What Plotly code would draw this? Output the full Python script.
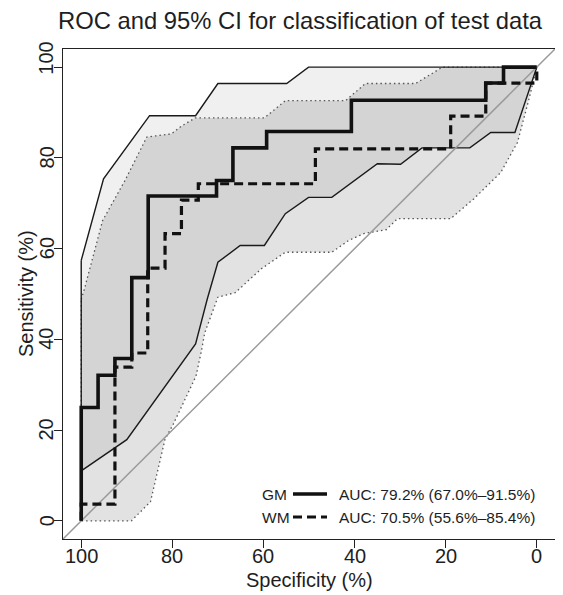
import plotly.graph_objects as go

# ---- data (specificity %, sensitivity %) ----
gm_spec = [100, 96.3, 92.6, 88.9, 85.3, 70.3, 66.7, 59.3, 40.7, 11.2, 7.3, 0]
gm_sens = [0, 25.0, 32.1, 35.8, 53.6, 71.6, 75.0, 82.2, 85.8, 92.7, 96.5, 100]

wm_spec = [100, 92.6, 88.9, 85.4, 81.6, 78.0, 74.3, 48.6, 18.9, 11.2, 0, 0]
wm_sens = [0, 3.7, 33.9, 37.0, 55.7, 63.3, 70.7, 74.3, 82.0, 89.2, 96.5, 100]

gm_ci_upper_spec = [100, 95.1, 85.0, 74.9, 70.0, 54.9, 50.1, 0]
gm_ci_upper_sens = [57.4, 75.4, 89.3, 89.3, 96.4, 96.4, 100, 100]
gm_ci_lower_spec = [100, 90.0, 74.9, 72.3, 70.0, 65.1, 59.8, 55.2, 50.1, 45.0, 35.0, 29.9, 25.2, 14.7, 10.1, 4.8, 0]
gm_ci_lower_sens = [11.0, 17.9, 39.0, 49.0, 57.0, 60.7, 60.7, 67.7, 71.3, 71.3, 78.7, 78.6, 82.2, 82.2, 85.6, 85.6, 100]

wm_ci_upper_spec = [100, 99.3, 95.3, 90.4, 85.6, 80.2, 78.0, 75.0, 59.8, 55.2, 42.0, 37.6, 26.6, 20.7, 0]
wm_ci_upper_sens = [48.8, 51.1, 66.2, 75.0, 84.6, 85.3, 87.0, 88.8, 88.8, 92.6, 92.6, 96.4, 96.4, 100, 100]
wm_ci_lower_spec = [100, 89.0, 84.8, 81.6, 79.8, 74.8, 73.6, 72.9, 70.0, 66.2, 60.4, 55.2, 45.0, 41.3, 38.0, 33.0, 30.6, 18.9, 13.8, 7.9, 4.25, 1.7, 0]
wm_ci_lower_sens = [0, 0, 4.2, 18.0, 21.3, 31.9, 37.5, 41.4, 49.3, 50.3, 55.6, 59.2, 59.2, 61.8, 63.3, 64.2, 66.6, 66.6, 71.0, 76.8, 83.4, 93.0, 100]

diag_spec = [104, -4]
diag_sens = [-4, 104]

tick_vals = [0, 20, 40, 60, 80, 100]
tick_labels = ["0", "20", "40", "60", "80", "100"]
legend_names = ["GM", "WM"]
legend_auc = ["AUC: 79.2% (67.0%–91.5%)", "AUC: 70.5% (55.6%–85.4%)"]
title_text = "ROC and 95% CI for classification of test data"
x_title = "Specificity (%)"
y_title = "Sensitivity (%)"

FONT = "Liberation Sans, Arial, sans-serif"
TXT = "#1e1e1e"

fig = go.Figure()

def band(us, uy, ls, ly):
    xs = us + ls[::-1] + [us[0]]
    ys = uy + ly[::-1] + [uy[0]]
    return xs, ys

gx, gy = band(gm_ci_upper_spec, gm_ci_upper_sens, gm_ci_lower_spec, gm_ci_lower_sens)
wx, wy = band(wm_ci_upper_spec, wm_ci_upper_sens, wm_ci_lower_spec, wm_ci_lower_sens)

fig.add_trace(go.Scatter(x=gx, y=gy, mode="lines", fill="toself",
                         fillcolor="rgba(0,0,0,0.06)", line=dict(width=0),
                         hoverinfo="skip", showlegend=False))
fig.add_trace(go.Scatter(x=wx, y=wy, mode="lines", fill="toself",
                         fillcolor="rgba(0,0,0,0.115)", line=dict(width=0),
                         hoverinfo="skip", showlegend=False))
# band borders
fig.add_trace(go.Scatter(x=wx, y=wy, mode="lines",
                         line=dict(color="#555555", width=1.3, dash="1.5px,3px"),
                         hoverinfo="skip", showlegend=False))
fig.add_trace(go.Scatter(x=gx, y=gy, mode="lines",
                         line=dict(color="#1a1a1a", width=1.4),
                         hoverinfo="skip", showlegend=False))
# diagonal
fig.add_trace(go.Scatter(x=diag_spec, y=diag_sens, mode="lines",
                         line=dict(color="#9a9a9a", width=1.5),
                         hoverinfo="skip", showlegend=False))
# ROC curves
fig.add_trace(go.Scatter(x=wm_spec, y=wm_sens, mode="lines", line_shape="vh",
                         line=dict(color="#111111", width=3.2, dash="9px,5px"),
                         name="WM", showlegend=False))
fig.add_trace(go.Scatter(x=gm_spec, y=gm_sens, mode="lines", line_shape="vh",
                         line=dict(color="#111111", width=3.6),
                         name="GM", showlegend=False))

axis_common = dict(
    tickmode="array", tickvals=tick_vals, showticklabels=False,
    ticks="outside", ticklen=8, tickwidth=1.2, tickcolor="#222",
    showline=True, linecolor="#222", linewidth=1.3, mirror=True,
    showgrid=False, zeroline=False,
)
fig.update_xaxes(range=[104, -4], **axis_common)
fig.update_yaxes(range=[-4, 104], **axis_common)

# page has an 8px body margin; plot area in page pixels: x 63..555, y 49..539
OFF = 8
W, H = 563 - OFF, 595 - OFF
P_L, P_R, P_T, P_B = 63, 555, 49, 539
ml, mt = P_L - OFF, P_T - OFF
mr = (OFF + W) - P_R
mb = (OFF + H) - P_B
pw, ph = P_R - P_L, P_B - P_T

def px(xp):
    return (xp - P_L) / pw

def py(yp):
    return (P_B - yp) / ph

annotations = [
    dict(text=title_text, x=px(300), y=py(21), xref="paper", yref="paper",
         showarrow=False, xanchor="center", yanchor="middle",
         font=dict(family=FONT, size=23.8, color=TXT)),
    dict(text=x_title, x=50, y=py(580), xref="x", yref="paper",
         showarrow=False, xanchor="center", yanchor="middle",
         font=dict(family=FONT, size=20, color=TXT)),
    dict(text=y_title, x=px(26), y=50, xref="paper", yref="y",
         showarrow=False, xanchor="center", yanchor="middle", textangle=-90,
         font=dict(family=FONT, size=20, color=TXT)),
]
for v, lab in zip(tick_vals, tick_labels):
    annotations.append(dict(text=lab, x=v, y=py(556), xref="x", yref="paper",
                            showarrow=False, xanchor="center", yanchor="middle",
                            font=dict(family=FONT, size=20, color=TXT)))
    annotations.append(dict(text=lab, x=px(46.5), y=v, xref="paper", yref="y",
                            showarrow=False, xanchor="center", yanchor="middle",
                            textangle=-90, yshift=(9 if lab == "100" else 0),
                            font=dict(family=FONT, size=20, color=TXT)))

rows_y = [494, 517]
for name, auc, ry in zip(legend_names, legend_auc, rows_y):
    annotations.append(dict(text=name, x=px(260), y=py(ry), xref="paper", yref="paper",
                            showarrow=False, xanchor="left", yanchor="middle",
                            font=dict(family=FONT, size=15.5, color=TXT)))
    annotations.append(dict(text=auc, x=px(337), y=py(ry), xref="paper", yref="paper",
                            showarrow=False, xanchor="left", yanchor="middle",
                            font=dict(family=FONT, size=15.5, color=TXT)))

shapes = [
    dict(type="line", xref="paper", yref="paper", x0=px(293), x1=px(327),
         y0=py(rows_y[0]), y1=py(rows_y[0]), line=dict(color="#111", width=3.6)),
    dict(type="line", xref="paper", yref="paper", x0=px(293), x1=px(327),
         y0=py(rows_y[1]), y1=py(rows_y[1]), line=dict(color="#111", width=3.2, dash="9px,5px")),
]

fig.update_layout(
    width=W, height=H,
    margin=dict(l=ml, r=mr, t=mt, b=mb, pad=0, autoexpand=False),
    paper_bgcolor="white", plot_bgcolor="white",
    annotations=annotations, shapes=shapes,
    showlegend=False,
)

fig.write_html("out.html")
